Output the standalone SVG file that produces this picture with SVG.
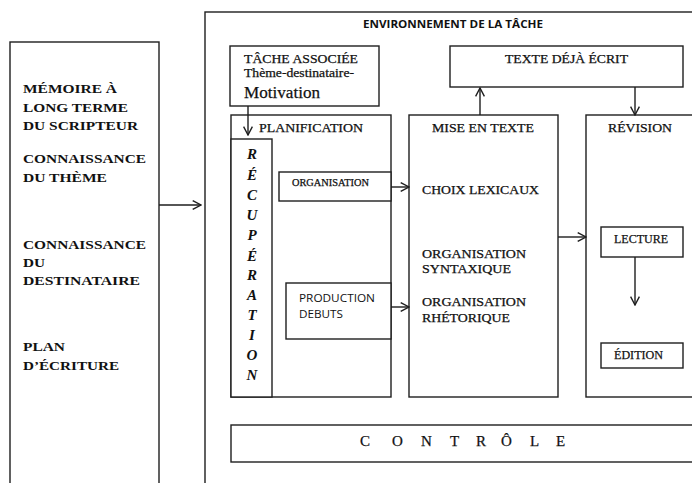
<svg xmlns="http://www.w3.org/2000/svg" width="692" height="483" viewBox="0 0 692 483">
<defs>
<style>
.box{fill:#fff;stroke:#1e1e1e;stroke-width:1.4}
.line{fill:none;stroke:#1e1e1e;stroke-width:1.4}
.serif{font-family:"Liberation Serif","Times New Roman",serif;fill:#111;stroke:#111;stroke-width:0.25}
.lm{font-family:"Liberation Serif","Times New Roman",serif;font-weight:bold;font-size:13px;fill:#111}
.hd{font-family:"Liberation Serif","Times New Roman",serif;font-size:12px;fill:#111;stroke:#111;stroke-width:0.25}
.rc{font-family:"Liberation Serif","Times New Roman",serif;font-weight:bold;font-style:italic;font-size:15px;fill:#111}
.sans{font-family:"Open Sans","Liberation Sans",sans-serif;fill:#111}
</style>
<marker id="arr" viewBox="0 0 10 10" refX="9.3" refY="5" markerWidth="10" markerHeight="10" markerUnits="userSpaceOnUse" orient="auto">
<path d="M1,0.6 L9.3,5 L1,9.4" fill="none" stroke="#1e1e1e" stroke-width="1.4"/>
</marker>
</defs>
<rect width="692" height="483" fill="#fff"/>

<g id="memoire">
<rect class="box" x="10" y="42" width="149" height="500"/>
<text class="lm" x="23" y="93" textLength="94" lengthAdjust="spacingAndGlyphs">MÉMOIRE À</text>
<text class="lm" x="23" y="112" textLength="105" lengthAdjust="spacingAndGlyphs">LONG TERME</text>
<text class="lm" x="23" y="130" textLength="115" lengthAdjust="spacingAndGlyphs">DU SCRIPTEUR</text>
<text class="lm" x="23" y="163" textLength="123" lengthAdjust="spacingAndGlyphs">CONNAISSANCE</text>
<text class="lm" x="23" y="182" textLength="84" lengthAdjust="spacingAndGlyphs">DU THÈME</text>
<text class="lm" x="23" y="249" textLength="123" lengthAdjust="spacingAndGlyphs">CONNAISSANCE</text>
<text class="lm" x="23" y="267" textLength="22" lengthAdjust="spacingAndGlyphs">DU</text>
<text class="lm" x="23" y="285" textLength="117" lengthAdjust="spacingAndGlyphs">DESTINATAIRE</text>
<text class="lm" x="23" y="351" textLength="42" lengthAdjust="spacingAndGlyphs">PLAN</text>
<text class="lm" x="23" y="370" textLength="96" lengthAdjust="spacingAndGlyphs">D’ÉCRITURE</text>
</g>

<g id="environnement">
<rect class="box" x="205" y="12" width="600" height="600"/>
<text class="sans" x="363" y="28" font-size="10.5" font-weight="bold" textLength="180" lengthAdjust="spacingAndGlyphs">ENVIRONNEMENT DE LA TÂCHE</text>
</g>

<g id="tache-associee">
<rect class="box" x="230" y="46" width="149" height="60"/>
<text class="serif" x="244" y="63" font-size="12.5" textLength="114" lengthAdjust="spacingAndGlyphs">TÂCHE ASSOCIÉE</text>
<text class="serif" x="244" y="77" font-size="12" textLength="110" lengthAdjust="spacingAndGlyphs">Thème-destinataire-</text>
<text class="serif" x="244" y="98" font-size="17" textLength="76" lengthAdjust="spacingAndGlyphs">Motivation</text>
</g>

<g id="texte-deja-ecrit">
<rect class="box" x="450" y="46" width="233" height="41"/>
<text class="hd" x="505" y="63" textLength="123" lengthAdjust="spacingAndGlyphs">TEXTE DÉJÀ ÉCRIT</text>
</g>

<g id="planification">
<rect class="box" x="231" y="115" width="160" height="282"/>
<text class="hd" x="259" y="132" textLength="104" lengthAdjust="spacingAndGlyphs">PLANIFICATION</text>
</g>

<g id="recuperation">
<rect class="box" x="231" y="139" width="41" height="258"/>
<g text-anchor="middle">
<text class="rc" x="252" y="159">R</text>
<text class="rc" x="252" y="180">É</text>
<text class="rc" x="252" y="200">C</text>
<text class="rc" x="252" y="220">U</text>
<text class="rc" x="252" y="240">P</text>
<text class="rc" x="252" y="261">É</text>
<text class="rc" x="252" y="280">R</text>
<text class="rc" x="252" y="300">A</text>
<text class="rc" x="252" y="320">T</text>
<text class="rc" x="252" y="340">I</text>
<text class="rc" x="252" y="360">O</text>
<text class="rc" x="252" y="380">N</text>
</g>
</g>

<g id="organisation">
<rect class="box" x="279" y="172" width="112" height="29"/>
<text class="serif" x="292" y="186" font-size="9.5" textLength="77" lengthAdjust="spacingAndGlyphs">ORGANISATION</text>
</g>

<g id="production-debuts">
<rect class="box" x="286" y="283" width="105" height="56"/>
<text class="sans" x="299" y="302" font-size="11" textLength="76" lengthAdjust="spacingAndGlyphs">PRODUCTION</text>
<text class="sans" x="299" y="318" font-size="11" textLength="44" lengthAdjust="spacingAndGlyphs">DEBUTS</text>
</g>

<g id="mise-en-texte">
<rect class="box" x="409" y="115" width="149" height="282"/>
<text class="hd" x="432" y="132" textLength="102" lengthAdjust="spacingAndGlyphs">MISE EN TEXTE</text>
<text class="hd" x="422" y="194" textLength="117" lengthAdjust="spacingAndGlyphs">CHOIX LEXICAUX</text>
<text class="hd" x="422" y="258" textLength="104" lengthAdjust="spacingAndGlyphs">ORGANISATION</text>
<text class="hd" x="422" y="273" textLength="89" lengthAdjust="spacingAndGlyphs">SYNTAXIQUE</text>
<text class="hd" x="422" y="306" textLength="104" lengthAdjust="spacingAndGlyphs">ORGANISATION</text>
<text class="hd" x="422" y="322" textLength="88" lengthAdjust="spacingAndGlyphs">RHÉTORIQUE</text>
</g>

<g id="revision">
<rect class="box" x="586" y="115" width="300" height="282"/>
<text class="hd" x="608" y="132" textLength="64" lengthAdjust="spacingAndGlyphs">RÉVISION</text>
</g>

<g id="lecture">
<rect class="box" x="601" y="227" width="82" height="30"/>
<text class="hd" x="614" y="243" textLength="54" lengthAdjust="spacingAndGlyphs">LECTURE</text>
</g>

<g id="edition">
<rect class="box" x="601" y="343" width="82" height="25"/>
<text class="hd" x="614" y="359" textLength="49" lengthAdjust="spacingAndGlyphs">ÉDITION</text>
</g>

<g id="controle">
<rect class="box" x="231" y="425" width="600" height="37"/>
<text class="serif" font-size="15" y="446" x="360 392 421 450 476 501 530 556">CONTRÔLE</text>
</g>

<g id="connectors">
<path class="line" d="M159,205 L201,205" marker-end="url(#arr)"/>
<path class="line" d="M248,106 L248,135" marker-end="url(#arr)"/>
<path class="line" d="M391,187 L409,187" marker-end="url(#arr)"/>
<path class="line" d="M391,307 L409,307" marker-end="url(#arr)"/>
<path class="line" d="M480,115 L480,88" marker-end="url(#arr)"/>
<path class="line" d="M635,87 L635,115" marker-end="url(#arr)"/>
<path class="line" d="M558,237 L586,237" marker-end="url(#arr)"/>
<path class="line" d="M635,257 L635,305" marker-end="url(#arr)"/>
</g>
</svg>
